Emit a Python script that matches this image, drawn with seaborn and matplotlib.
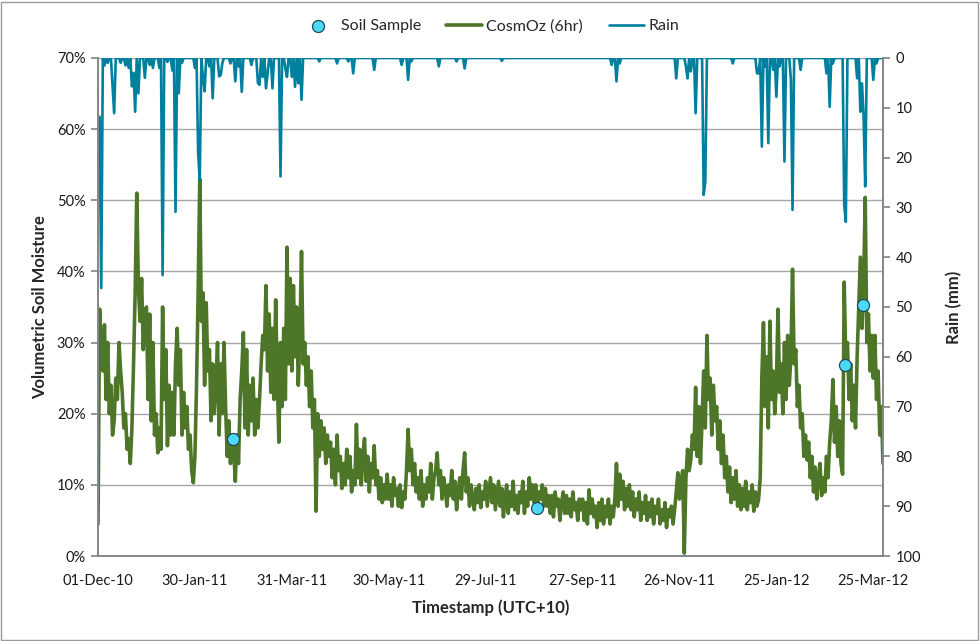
import pandas as pd
import matplotlib
matplotlib.use('Agg')
import matplotlib.pyplot as plt
import matplotlib.dates as mdates
from matplotlib.ticker import FuncFormatter
import seaborn as sns

# CosmOz soil moisture (%), one value per day from 01-Dec-10
start = '2010-12-01'
vsm = [
    4.5, 34.7, 29, 26, 32.5, 22, 30, 20, 24, 17,
    19, 25, 22, 30, 26, 23, 18, 20, 15, 16.5,
    13, 18, 27, 37, 51, 38, 33, 39, 29, 34,
    35, 22, 34, 19, 30, 17, 20, 14.5, 18, 15,
    35, 22, 29, 15.5, 24, 17, 23, 17, 27, 32,
    24, 29, 17, 23, 18, 21, 15, 17, 12, 10.3,
    14, 24, 37, 53, 33, 37, 24, 35.6, 26, 29,
    19, 27, 20, 24, 30, 17, 27, 20, 30, 21,
    14, 19, 13, 17, 15, 10.5, 17, 13, 22, 26,
    31.4, 18, 29, 17, 24, 19, 25, 17, 22, 18,
    22, 27, 31, 29, 38, 26, 34, 23, 32, 22,
    36, 25, 16, 30, 21, 32, 22, 43.4, 27, 39,
    26, 38, 28, 35, 24, 31, 42.8, 27, 30, 24,
    28, 21, 26, 18, 22, 6.3, 20, 14, 19, 15,
    18, 13, 17, 14, 16, 11, 15, 10, 17, 12,
    14, 9.5, 13, 10, 15, 11, 14, 9, 12, 10,
    18.5, 11, 15, 10, 14, 16.5, 10.5, 14, 9, 13,
    11, 15.5, 10, 12, 8, 11, 7.5, 10, 8, 11.5,
    8, 10, 7, 11, 8.5, 9.5, 7, 10, 6.8, 9,
    8, 12, 17.8, 12, 15, 10, 13, 9, 11, 8,
    12, 7, 10, 8, 11, 9, 13, 8, 11, 12,
    14.5, 10, 12, 8, 11, 9.5, 7, 10, 8.5, 12,
    8, 10.5, 6.5, 9, 11, 8, 12, 14.5, 9, 11,
    7, 10, 8, 6.5, 9.5, 7.5, 10, 6.8, 9, 8,
    10.5, 7, 9, 11, 7.5, 10, 6.5, 8.5, 10.5, 7,
    9.5, 5.5, 8, 10, 6, 9, 7, 10.5, 6.5, 8.5,
    6, 9, 7.5, 10.5, 6, 9, 7, 11, 8, 10,
    7.5, 10, 6.5, 9, 8, 10, 7, 9.5, 7, 8.5,
    6, 8.5, 5.5, 9, 7, 8, 5, 7.5, 9, 6,
    8.5, 6, 8, 5.5, 9, 6.5, 7.5, 5, 8, 6.5,
    8, 5, 7.5, 4.5, 9.3, 6, 8, 5.5, 7, 4,
    7.5, 5, 8, 4.5, 7, 5.5, 8, 4.5, 7, 5.5,
    8, 13, 7, 11.5, 8, 10.5, 6.5, 9.5, 7, 10,
    6.5, 9, 5.5, 8, 6.5, 9, 5, 7.5, 6, 8.5,
    5, 7.5, 5.5, 8, 4.5, 7, 6, 8, 4.5, 6.5,
    5, 7.5, 4, 6.5, 5.5, 7, 4.5, 6.5, 9, 11.7,
    8, 10.5, 12, 0.4, 11, 15, 12, 13.5, 17, 15,
    23.7, 14, 21, 13, 19, 26, 18, 31, 22, 25,
    17, 24, 19, 21, 15, 19, 13, 17, 11, 14,
    9, 12.5, 7.5, 11, 8, 12, 7, 10, 6.5, 9.5,
    7, 10.5, 6.5, 9, 7.5, 10, 6.3, 9, 7, 8,
    11, 25, 32.8, 21, 28, 18, 33, 22, 26, 20,
    24, 34.7, 23, 27, 20, 30, 22, 31, 24, 28,
    40.3, 27, 29, 21, 24, 18, 20, 14, 17, 13.5,
    16, 11, 14, 9, 12.5, 8, 11, 13, 8.5, 11,
    9, 14, 11, 16, 19, 24.8, 16, 21, 14, 19,
    13, 11.5, 38.5, 27, 30, 22, 27, 19, 24, 18,
    28, 35, 42, 32, 38, 50.4, 30, 34, 26, 31,
    25, 31, 22, 26, 17, 21, 13,
]

# rain events: day offset from start and amount (mm); all other days are 0
rain_day = [0, 1, 2, 4, 6, 9, 10, 14, 17, 19,
            21, 22, 23, 25, 29, 32, 34, 38, 40, 43,
            46, 48, 50, 52, 60, 62, 63, 65, 66, 69,
            71, 75, 76, 77, 82, 85, 87, 89, 95, 99,
            100, 102, 104, 105, 108, 113, 116, 117, 120, 122,
            124, 126, 137, 148, 155, 158, 171, 188, 192, 194,
            211, 222, 227, 250, 318, 321, 323, 358, 364, 365,
            367, 370, 375, 376, 393, 408, 409, 411, 413, 415,
            418, 420, 422, 425, 429, 430, 435, 451, 453, 455,
            462, 463, 470, 472, 473, 474, 475, 480, 482]
rain_mm = [11.8, 11.8, 46.2, 1.5, 1, 5.4, 11.1, 1, 1.5, 2,
           5.7, 3, 10.8, 7.1, 4, 1.4, 2, 2, 43.6, 0.8,
           2.5, 30.9, 7.1, 1, 2, 19.1, 24.5, 3.8, 6.7, 1.7,
           8.1, 3.7, 3.4, 1, 1.1, 4.7, 1.7, 6.8, 1.4, 5,
           5.4, 3.8, 6.1, 3.1, 6.1, 23.8, 2.1, 3.8, 3.8, 5.8,
           5.1, 8.4, 0.7, 1.1, 0.7, 3.1, 2.4, 1.4, 4.4, 0.7,
           1.7, 0.7, 2.1, 0.6, 1.4, 4.7, 1.1, 4.1, 1.7, 4.1,
           2.7, 11.1, 27.5, 24.8, 1.1, 3.1, 3.1, 17.8, 1.7, 17.1,
           2.4, 7.8, 1.7, 20.8, 4.4, 30.5, 2.4, 3.1, 9.8, 1.1,
           29.5, 32.9, 4.1, 10.8, 5.1, 11.8, 25.8, 4.4, 1.1]

# soil samples
sample_time = ['2011-02-22 10:00', '2011-08-29 14:00', '2012-03-07 12:00', '2012-03-18 12:00']
sample_vsm = [16.5, 6.75, 26.8, 35.3]

green = '#4E7629'
blue = '#00809E'
grey = '#868686'

days = pd.date_range(start, periods=len(vsm), freq='D')
cosmoz = pd.DataFrame({'time': days, 'vsm': vsm})
rain = pd.Series(0.0, index=days)
rain.iloc[rain_day] = rain_mm
rain_df = pd.DataFrame({'time': days, 'rain': rain.values})
samples = pd.DataFrame({'time': pd.to_datetime(sample_time), 'vsm': sample_vsm})

sns.set_theme(style='white')
plt.rcParams['font.family'] = ['Lato', 'DejaVu Sans']

fig = plt.figure(figsize=(9.8, 6.41), dpi=100)
ax = fig.add_axes([0.1, 0.1326, 0.801, 0.777])

sns.lineplot(data=cosmoz, x='time', y='vsm', ax=ax, color=green, lw=2.6, label='CosmOz (6hr)')
sns.scatterplot(data=samples, x='time', y='vsm', ax=ax, color='#4DD8F5', edgecolor='#1E4A5A',
                linewidth=0.9, s=75, zorder=5, label='Soil Sample')

ax2 = ax.twinx()
sns.lineplot(data=rain_df, x='time', y='rain', ax=ax2, color=blue, lw=1.9, label='Rain')

# left axis
ax.set_ylim(0, 70)
ax.set_yticks(range(0, 71, 10))
ax.yaxis.set_major_formatter(FuncFormatter(lambda v, p: f'{v:.0f}%'))
ax.yaxis.grid(True, color='#A6A6A6', lw=1)
ax.set_axisbelow(True)
ax.set_xlim(days[0], days[-1])
ax.set_xticks(pd.date_range(start, periods=9, freq='60D'))
ax.xaxis.set_major_formatter(mdates.DateFormatter('%d-%b-%y'))

# right axis (inverted)
ax2.set_ylim(100, 0)
ax2.set_yticks(range(0, 101, 10))

for a in (ax, ax2):
    for side in ('left', 'bottom', 'right'):
        a.spines[side].set_color(grey)
    a.spines['top'].set_visible(False)
    a.tick_params(which='major', length=5, color=grey, direction='out', labelsize=10.5,
                  labelcolor='#1A1A1A')
ax.tick_params(axis='x', pad=8)
ax.tick_params(axis='y', left=True, pad=4)
ax2.tick_params(axis='y', right=True, pad=4)

ax.set_xlabel('Timestamp (UTC+10)', fontsize=12, fontweight='bold', labelpad=8)
ax.set_ylabel('Volumetric Soil Moisture', fontsize=12, fontweight='bold', labelpad=6)
ax2.set_ylabel('Rain (mm)', fontsize=12, fontweight='bold', labelpad=18, rotation=90)

# one legend across the top
h1, l1 = ax.get_legend_handles_labels()
h2, l2 = ax2.get_legend_handles_labels()
for a in (ax, ax2):
    if a.get_legend() is not None:
        a.get_legend().remove()
handles = dict(zip(l1 + l2, h1 + h2))
order = ['Soil Sample', 'CosmOz (6hr)', 'Rain']
fig.legend([handles[k] for k in order], order, loc='center', bbox_to_anchor=(0.5, 0.959),
           ncol=3, frameon=False, fontsize=11.5, handlelength=2.2, columnspacing=1.6,
           handletextpad=0.3)

fig.add_artist(plt.Rectangle((0.001, 0.002), 0.997, 0.995, transform=fig.transFigure,
                             fill=False, ec='#9A9A9A', lw=1))

fig.savefig('out.png', dpi=100)
